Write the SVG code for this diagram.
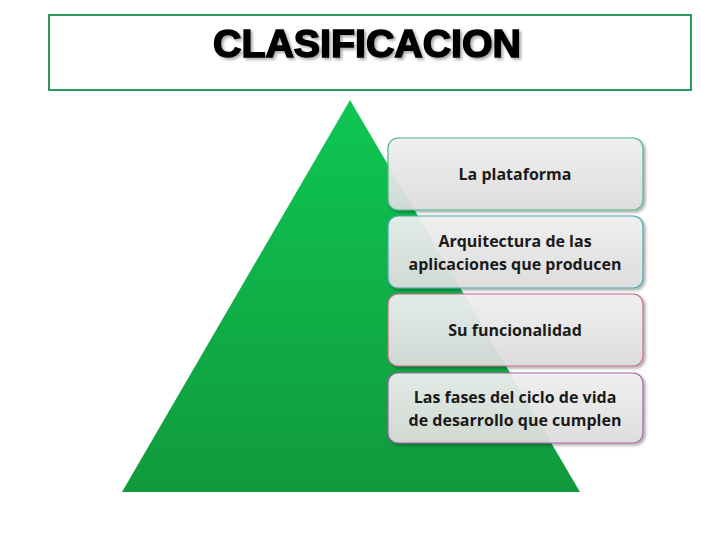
<svg xmlns="http://www.w3.org/2000/svg" width="728" height="546" viewBox="0 0 728 546">
<defs>
<linearGradient id="tri" x1="0" y1="0" x2="0" y2="1">
<stop offset="0" stop-color="#0ec653"/><stop offset="1" stop-color="#119a3d"/>
</linearGradient>
<linearGradient id="box" x1="0" y1="0" x2="0" y2="1">
<stop offset="0" stop-color="#f2f2f2" stop-opacity="0.92"/><stop offset="1" stop-color="#dedede" stop-opacity="0.92"/>
</linearGradient>
<filter id="sh" x="-10%" y="-10%" width="130%" height="140%"><feDropShadow dx="2" dy="2" stdDeviation="1.5" flood-opacity="0.35"/></filter>
</defs>
<style>
.b{fill:url(#box);stroke-width:1.2;filter:url(#sh)}
.t{font-family:"Open Sans","Liberation Sans",sans-serif;font-weight:bold;font-size:16px;fill:#1a1a1a;text-anchor:middle}
</style>
<rect width="728" height="546" fill="#fff"/>
<g id="title">
<rect x="49" y="15" width="642" height="75" fill="#fff" stroke="#2a9a5a" stroke-width="2"/>
<text x="367" y="57" font-family="Liberation Sans, sans-serif" font-weight="bold" font-size="38" fill="#000" stroke="#000" stroke-width="1.5" textLength="308" lengthAdjust="spacingAndGlyphs" text-anchor="middle" filter="url(#sh)">CLASIFICACION</text>
</g>
<g id="pyramid"><polygon points="350,100 580,492 122,492" fill="url(#tri)"/></g>
<g id="n1"><rect class="b" x="388" y="138" width="255" height="72" rx="10" stroke="#4fb38a"/><text class="t" x="515" y="180">La plataforma</text></g>
<g id="n2"><rect class="b" x="388" y="216" width="255" height="72" rx="10" stroke="#4aa8a8"/><text class="t" x="515" y="247">Arquitectura de las</text><text class="t" x="515" y="270">aplicaciones que producen</text></g>
<g id="n3"><rect class="b" x="388" y="294" width="255" height="72" rx="10" stroke="#c86a8e"/><text class="t" x="515" y="336">Su funcionalidad</text></g>
<g id="n4"><rect class="b" x="388" y="373" width="255" height="70" rx="10" stroke="#a760a8"/><text class="t" x="515" y="403">Las fases del ciclo de vida</text><text class="t" x="515" y="426">de desarrollo que cumplen</text></g>
<g id="connectors"/>
</svg>
